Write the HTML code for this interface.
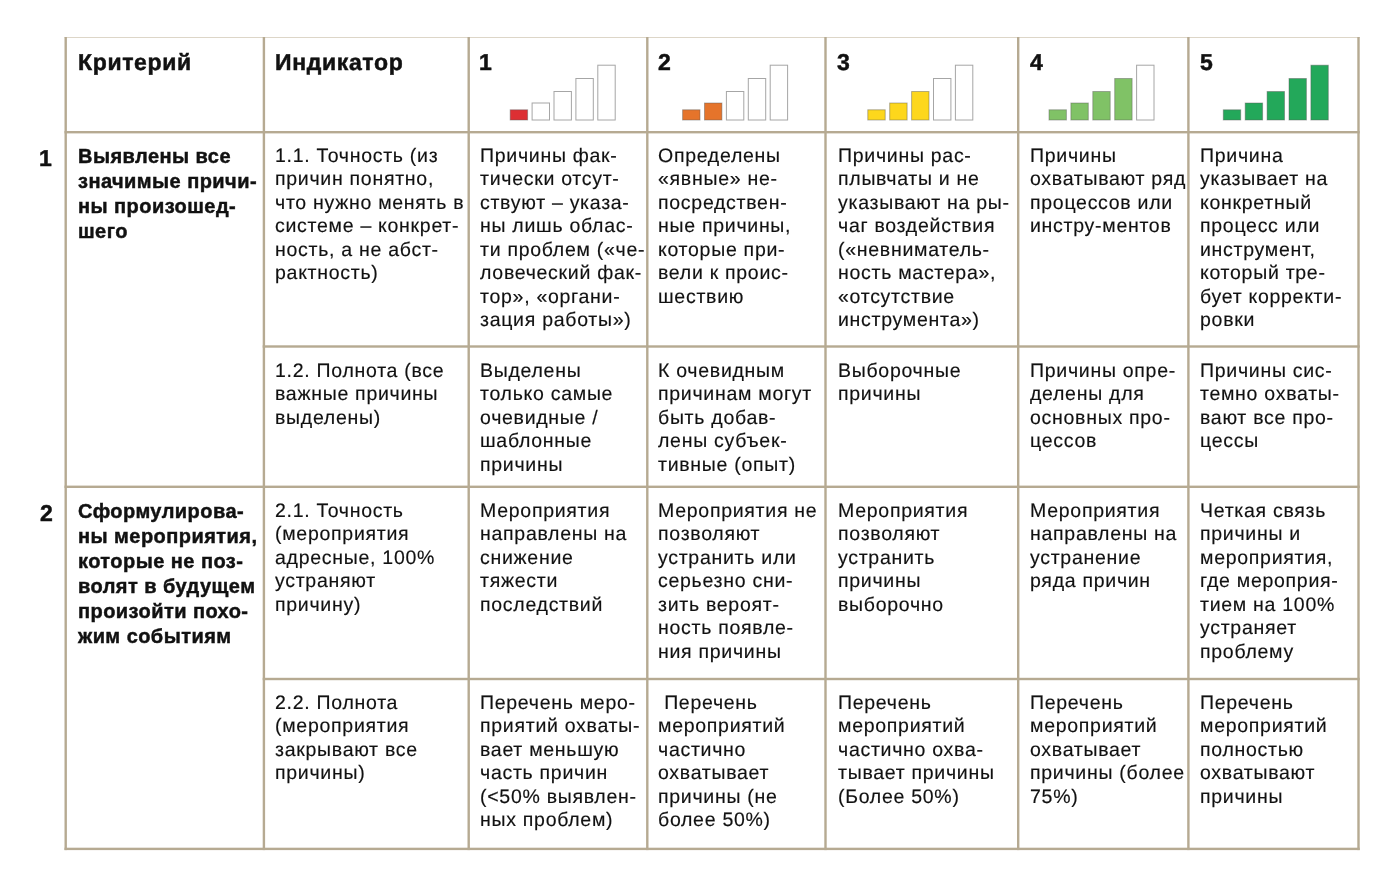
<!DOCTYPE html><html><head><meta charset="utf-8"><style>
html,body{margin:0;padding:0;background:#fff;width:1399px;height:888px;overflow:hidden;}
body{position:relative;font-family:"Liberation Sans",sans-serif;color:#111111;}
.t{position:absolute;white-space:nowrap;font-size:19.5px;line-height:23.45px;letter-spacing:0.72px;}
.c{position:absolute;white-space:nowrap;font-weight:bold;font-size:20.0px;line-height:25.0px;letter-spacing:0.45px;}
.h{position:absolute;white-space:nowrap;font-weight:bold;font-size:23.0px;line-height:28px;letter-spacing:0.65px;}
svg{position:absolute;left:0;top:0;}
.t,.c,.h{will-change:transform;}
.c{-webkit-text-stroke:0.45px #111111;}
.h{-webkit-text-stroke:0.5px #111111;text-rendering:geometricPrecision;}
.t{-webkit-text-stroke:0.16px #111111;text-rendering:geometricPrecision;}
</style></head><body>
<svg width="1399" height="888" viewBox="0 0 1399 888"><rect x="64.50" y="37.00" width="1295.20" height="1" fill="#ddd6c8"/><rect x="64.50" y="37.00" width="2.40" height="813.10" fill="#b6aa92"/><rect x="262.70" y="37.00" width="2.40" height="813.10" fill="#b6aa92"/><rect x="467.50" y="37.00" width="2.40" height="813.10" fill="#b6aa92"/><rect x="646.10" y="37.00" width="2.40" height="813.10" fill="#b6aa92"/><rect x="824.30" y="37.00" width="2.40" height="813.10" fill="#b6aa92"/><rect x="1017.00" y="37.00" width="2.40" height="813.10" fill="#b6aa92"/><rect x="1187.20" y="37.00" width="2.40" height="813.10" fill="#b6aa92"/><rect x="1357.30" y="37.00" width="2.40" height="813.10" fill="#b6aa92"/><rect x="64.50" y="131.00" width="1295.20" height="2.40" fill="#b6aa92"/><rect x="262.70" y="345.30" width="1097.00" height="2.40" fill="#b6aa92"/><rect x="64.50" y="485.60" width="1295.20" height="2.40" fill="#b6aa92"/><rect x="262.70" y="677.80" width="1097.00" height="2.40" fill="#b6aa92"/><rect x="64.50" y="847.70" width="1295.20" height="2.40" fill="#b6aa92"/><rect x="510.20" y="109.80" width="17.40" height="10.20" fill="#dd2f33" stroke="rgba(90,90,90,0.45)" stroke-width="1.00"/><rect x="532.10" y="103.00" width="17.40" height="17.00" fill="#ffffff" stroke="#a6a6a6" stroke-width="1.00"/><rect x="554.00" y="91.50" width="17.40" height="28.50" fill="#ffffff" stroke="#a6a6a6" stroke-width="1.00"/><rect x="575.90" y="78.50" width="17.40" height="41.50" fill="#ffffff" stroke="#a6a6a6" stroke-width="1.00"/><rect x="597.80" y="65.20" width="17.40" height="54.80" fill="#ffffff" stroke="#a6a6a6" stroke-width="1.00"/><rect x="682.60" y="109.80" width="17.40" height="10.20" fill="#e5742b" stroke="rgba(90,90,90,0.45)" stroke-width="1.00"/><rect x="704.50" y="103.00" width="17.40" height="17.00" fill="#e5742b" stroke="rgba(90,90,90,0.45)" stroke-width="1.00"/><rect x="726.40" y="91.50" width="17.40" height="28.50" fill="#ffffff" stroke="#a6a6a6" stroke-width="1.00"/><rect x="748.30" y="78.50" width="17.40" height="41.50" fill="#ffffff" stroke="#a6a6a6" stroke-width="1.00"/><rect x="770.20" y="65.20" width="17.40" height="54.80" fill="#ffffff" stroke="#a6a6a6" stroke-width="1.00"/><rect x="867.80" y="109.80" width="17.40" height="10.20" fill="#fdd71c" stroke="rgba(90,90,90,0.45)" stroke-width="1.00"/><rect x="889.70" y="103.00" width="17.40" height="17.00" fill="#fdd71c" stroke="rgba(90,90,90,0.45)" stroke-width="1.00"/><rect x="911.60" y="91.50" width="17.40" height="28.50" fill="#fdd71c" stroke="rgba(90,90,90,0.45)" stroke-width="1.00"/><rect x="933.50" y="78.50" width="17.40" height="41.50" fill="#ffffff" stroke="#a6a6a6" stroke-width="1.00"/><rect x="955.40" y="65.20" width="17.40" height="54.80" fill="#ffffff" stroke="#a6a6a6" stroke-width="1.00"/><rect x="1049.00" y="109.80" width="17.40" height="10.20" fill="#80c266" stroke="rgba(90,90,90,0.45)" stroke-width="1.00"/><rect x="1070.90" y="103.00" width="17.40" height="17.00" fill="#80c266" stroke="rgba(90,90,90,0.45)" stroke-width="1.00"/><rect x="1092.80" y="91.50" width="17.40" height="28.50" fill="#80c266" stroke="rgba(90,90,90,0.45)" stroke-width="1.00"/><rect x="1114.70" y="78.50" width="17.40" height="41.50" fill="#80c266" stroke="rgba(90,90,90,0.45)" stroke-width="1.00"/><rect x="1136.60" y="65.20" width="17.40" height="54.80" fill="#ffffff" stroke="#a6a6a6" stroke-width="1.00"/><rect x="1223.30" y="109.80" width="17.40" height="10.20" fill="#23a85a" stroke="rgba(90,90,90,0.45)" stroke-width="1.00"/><rect x="1245.20" y="103.00" width="17.40" height="17.00" fill="#23a85a" stroke="rgba(90,90,90,0.45)" stroke-width="1.00"/><rect x="1267.10" y="91.50" width="17.40" height="28.50" fill="#23a85a" stroke="rgba(90,90,90,0.45)" stroke-width="1.00"/><rect x="1289.00" y="78.50" width="17.40" height="41.50" fill="#23a85a" stroke="rgba(90,90,90,0.45)" stroke-width="1.00"/><rect x="1310.90" y="65.20" width="17.40" height="54.80" fill="#23a85a" stroke="rgba(90,90,90,0.45)" stroke-width="1.00"/></svg>
<div class="h" style="left:77.60px;top:48.43px">Критерий</div>
<div class="h" style="left:275.20px;top:48.43px">Индикатор</div>
<div class="h" style="left:478.80px;top:48.43px">1</div>
<div class="h" style="left:657.70px;top:48.43px">2</div>
<div class="h" style="left:836.80px;top:48.43px">3</div>
<div class="h" style="left:1029.50px;top:48.43px">4</div>
<div class="h" style="left:1199.80px;top:48.43px">5</div>
<div class="h" style="left:38.60px;top:144.23px">1</div>
<div class="h" style="left:39.60px;top:498.83px">2</div>
<div class="c" style="left:77.50px;top:144.07px">Выявлены все<br>значимые причи-<br>ны произошед-<br>шего</div>
<div class="c" style="left:77.50px;top:498.67px">Сформулирова-<br>ны мероприятия,<br>которые не поз-<br>волят в будущем<br>произойти похо-<br>жим событиям</div>
<div class="t" style="left:275.10px;top:145.12px">1.1. Точность (из<br>причин понятно,<br>что нужно менять в<br>системе – конкрет-<br>ность, а не абст-<br>рактность)</div>
<div class="t" style="left:480.40px;top:145.12px">Причины фак-<br>тически отсут-<br>ствуют – указа-<br>ны лишь облас-<br>ти проблем («че-<br>ловеческий фак-<br>тор», «органи-<br>зация работы»)</div>
<div class="t" style="left:658.10px;top:145.12px">Определены<br>«явные» не-<br>посредствен-<br>ные причины,<br>которые при-<br>вели к проис-<br>шествию</div>
<div class="t" style="left:837.80px;top:145.12px">Причины рас-<br>плывчаты и не<br>указывают на ры-<br>чаг воздействия<br>(«невниматель-<br>ность мастера»,<br>«отсутствие<br>инструмента»)</div>
<div class="t" style="left:1029.60px;top:145.12px">Причины<br>охватывают ряд<br>процессов или<br>инстру-ментов</div>
<div class="t" style="left:1200.30px;top:145.12px">Причина<br>указывает на<br>конкретный<br>процесс или<br>инструмент,<br>который тре-<br>бует корректи-<br>ровки</div>
<div class="t" style="left:275.10px;top:359.72px">1.2. Полнота (все<br>важные причины<br>выделены)</div>
<div class="t" style="left:480.40px;top:359.72px">Выделены<br>только самые<br>очевидные /<br>шаблонные<br>причины</div>
<div class="t" style="left:658.10px;top:359.72px">К очевидным<br>причинам могут<br>быть добав-<br>лены субъек-<br>тивные (опыт)</div>
<div class="t" style="left:837.80px;top:359.72px">Выборочные<br>причины</div>
<div class="t" style="left:1029.60px;top:359.72px">Причины опре-<br>делены для<br>основных про-<br>цессов</div>
<div class="t" style="left:1200.30px;top:359.72px">Причины сис-<br>темно охваты-<br>вают все про-<br>цессы</div>
<div class="t" style="left:275.10px;top:500.02px">2.1. Точность<br>(мероприятия<br>адресные, 100%<br>устраняют<br>причину)</div>
<div class="t" style="left:480.40px;top:500.02px">Мероприятия<br>направлены на<br>снижение<br>тяжести<br>последствий</div>
<div class="t" style="left:658.10px;top:500.02px">Мероприятия не<br>позволяют<br>устранить или<br>серьезно сни-<br>зить вероят-<br>ность появле-<br>ния причины</div>
<div class="t" style="left:837.80px;top:500.02px">Мероприятия<br>позволяют<br>устранить<br>причины<br>выборочно</div>
<div class="t" style="left:1029.60px;top:500.02px">Мероприятия<br>направлены на<br>устранение<br>ряда причин</div>
<div class="t" style="left:1200.30px;top:500.02px">Четкая связь<br>причины и<br>мероприятия,<br>где мероприя-<br>тием на 100%<br>устраняет<br>проблему</div>
<div class="t" style="left:275.10px;top:692.02px">2.2. Полнота<br>(мероприятия<br>закрывают все<br>причины)</div>
<div class="t" style="left:480.40px;top:692.02px">Перечень меро-<br>приятий охваты-<br>вает меньшую<br>часть причин<br>(&lt;50% выявлен-<br>ных проблем)</div>
<div class="t" style="left:658.10px;top:692.02px">&nbsp;Перечень<br>мероприятий<br>частично<br>охватывает<br>причины (не<br>более 50%)</div>
<div class="t" style="left:837.80px;top:692.02px">Перечень<br>мероприятий<br>частично охва-<br>тывает причины<br>(Более 50%)</div>
<div class="t" style="left:1029.60px;top:692.02px">Перечень<br>мероприятий<br>охватывает<br>причины (более<br>75%)</div>
<div class="t" style="left:1200.30px;top:692.02px">Перечень<br>мероприятий<br>полностью<br>охватывают<br>причины</div>
</body></html>
